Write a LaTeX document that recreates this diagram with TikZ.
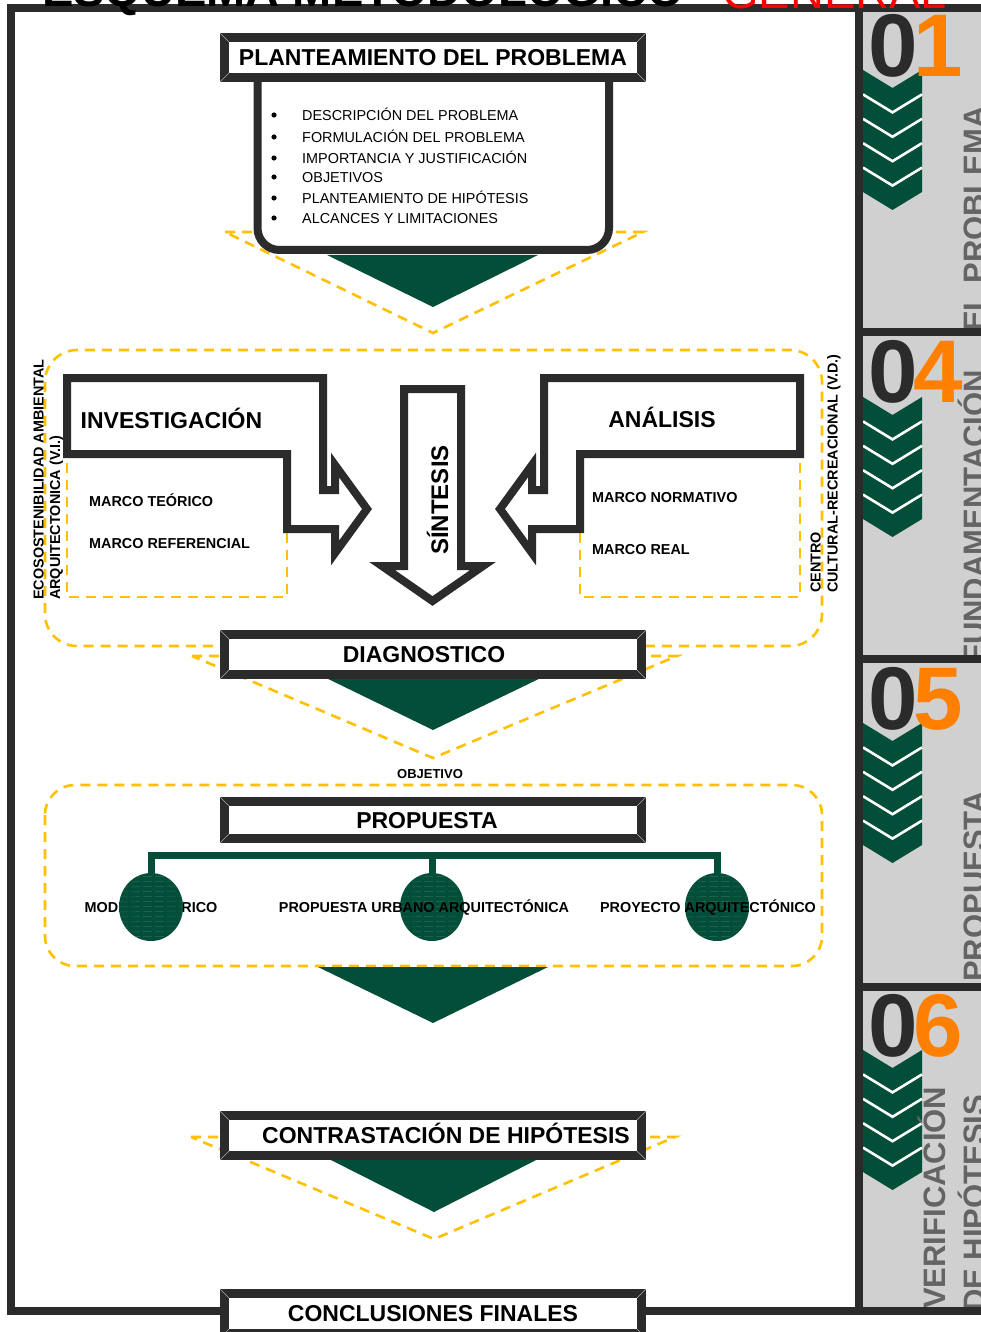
\documentclass[tikz,border=0pt]{standalone}
\usepackage{fontspec}
\setmainfont{Liberation Sans}
\usetikzlibrary{shapes.geometric}

\definecolor{framegray}{HTML}{2B2B2B}
\definecolor{deepgreen}{HTML}{034E39}
\definecolor{amber}{HTML}{FFC000}
\definecolor{panel}{HTML}{D0D0D0}
\definecolor{paneltext}{HTML}{646464}
\definecolor{accent}{HTML}{FF8000}
\definecolor{titlered}{HTML}{FF0000}

\newcommand\fsz[1]{\fontsize{#1}{#1}\selectfont}

% light diagonals at the four corners of a framed title box
\newcommand\framecorners[1]{%
  \foreach \ox/\oy/\ix/\iy/\an in {-4.5/-4.5/4.5/4.5/north west,4.5/-4.5/-4.5/4.5/north east,-4.5/4.5/4.5/-4.5/south west,4.5/4.5/-4.5/-4.5/south east}{%
    \draw[bevel] ([shift={(\ox,\oy)}]#1.\an) -- ([shift={(\ix,\iy)}]#1.\an);}}

% stack of five green chevrons in the side panel, #1 = top edge
\newcommand\chevrons[1]{%
  \fill[deepgreen] (863,#1) -- (892.5,#1+18) -- (922,#1) -- (922,#1+122) -- (892.5,#1+140) -- (863,#1+122) -- cycle;
  \foreach \k in {1,2,3,4}{%
    \draw[white,line width=2.6pt] (863,{#1+24.4*\k}) -- (892.5,{#1+24.4*\k+18}) -- (922,{#1+24.4*\k});}}

\begin{document}
\begin{tikzpicture}[x=1pt,y=-1pt,
  titlebox/.style={rectangle, draw=framegray, line width=9pt, fill=white, outer sep=0pt, inner sep=0pt,
    minimum width=417pt, minimum height=40pt, font=\bfseries\fsz{23}, text height=16.5pt, text depth=0pt},
  bevel/.style={draw=white!60!framegray, line width=0.6pt},
  darkline/.style={draw=framegray, line width=8pt, line join=miter},
  framebar/.style={draw=framegray, line width=8pt},
  guide/.style={draw=amber, line width=2.6pt, dash pattern=on 10pt off 7pt},
  wedge/.style={fill=deepgreen},
  smalltext/.style={inner sep=0pt, font=\bfseries\fsz{14.4}},
  listtext/.style={inner sep=0pt, anchor=base west, font=\fsz{14.4}},
  heading/.style={inner sep=0pt, font=\bfseries\fsz{23}},
  sidelabel/.style={inner sep=0pt, rotate=90, anchor=base west, font=\bfseries\fsz{14.4}},
  paneltitle/.style={inner sep=0pt, rotate=90, anchor=base west, font=\bfseries\fsz{31}, text=paneltext},
  digitdark/.style={inner sep=0pt, anchor=base west, font=\bfseries\fsz{89}, text=framegray},
  digitaccent/.style={inner sep=0pt, anchor=base west, font=\bfseries\fsz{89}, text=accent},
  bracket/.style={draw=deepgreen, line width=7pt, line join=miter},
  bulb/.style={ellipse, fill=deepgreen, minimum width=64pt, minimum height=68pt, inner sep=0pt,
    path picture={\foreach \yy in {-30,-25,...,30}{\draw[white, opacity=0.17, line width=0.5pt, dash pattern=on 9pt off 3pt]
      ([yshift=\yy pt]path picture bounding box.west) -- ([yshift=\yy pt+1pt]path picture bounding box.east);}}}
]
\useasboundingbox (0,0) rectangle (981,1332);
\clip (0,0) rectangle (981,1332);
\fill[white] (0,0) rectangle (981,1332);

% ---------- side panel ----------
\fill[panel] (859,8) rectangle (981,1311);
\chevrons{70}
\chevrons{397}
\chevrons{723}
\chevrons{1050}

\node[digitdark] (d1a) at (868,77) {0};
\node[digitaccent] (d1b) at (913,77) {1};
\node[digitdark] (d4a) at (868,402) {0};
\node[digitaccent] (d4b) at (913,402) {4};
\node[digitdark] (d5a) at (868,729) {0};
\node[digitaccent] (d5b) at (913,729) {5};
\node[digitdark] (d6a) at (868,1056) {0};
\node[digitaccent] (d6b) at (913,1056) {6};

\begin{scope}
  \clip (863,12) rectangle (981,328);
  \node[paneltitle] (p1) at (985,332) {EL PROBLEMA};
\end{scope}
\begin{scope}
  \clip (863,336) rectangle (981,655);
  \node[paneltitle] (p4) at (985,664) {FUNDAMENTACIÓN};
\end{scope}
\begin{scope}
  \clip (863,663) rectangle (981,983);
  \node[paneltitle] (p5) at (985,982) {PROPUESTA};
\end{scope}
\begin{scope}
  \clip (863,991) rectangle (981,1307);
  \node[paneltitle] (p6a) at (945.5,1309) {VERIFICACIÓN};
  \node[paneltitle] (p6b) at (985,1312) {DE HIPÓTESIS};
\end{scope}

% ---------- outer frame ----------
\draw[framebar] (7,8) -- (981,8);
\draw[framebar] (11,4) -- (11,1315);
\draw[framebar] (859,4) -- (859,1315);
\draw[framebar] (7,1311) -- (981,1311);
\foreach \yy in {332,659,987}{\draw[framebar] (859,\yy) -- (981,\yy);}

\node[anchor=base west, inner sep=0pt, font=\bfseries\fsz{47}] (head1) at (42,7) {ESQUEMA METODOLÓGICO};
\node[anchor=base west, inner sep=0pt, font=\fsz{47}, text=titlered] (head2) at (722,9) {GENERAL};

% ---------- planteamiento del problema ----------
\draw[guide] (225,232) -- (643,232) -- (433,333) -- cycle;
\fill[wedge] (327,255) -- (538,255) -- (433,307) -- cycle;
\draw[darkline, fill=white, rounded corners=22pt] (257.5,80) -- (257.5,250) -- (609,250) -- (609,80);
\node[titlebox] (plan) at (433,57.5) {PLANTEAMIENTO DEL PROBLEMA};
\framecorners{plan}
\foreach \yy/\txt [count=\i] in {120.2/DESCRIPCIÓN DEL PROBLEMA,142.2/FORMULACIÓN DEL PROBLEMA,163.2/IMPORTANCIA Y JUSTIFICACIÓN,182.2/OBJETIVOS,203.2/PLANTEAMIENTO DE HIPÓTESIS,223.2/ALCANCES Y LIMITACIONES}{%
  \fill (274,\yy-5.2) circle[radius=2.6pt];
  \node[listtext] (item\i) at (302,\yy) {\txt};
}

% ---------- investigación / síntesis / análisis ----------
\draw[guide, rounded corners=32pt] (45,350) rectangle (822,646);
\draw[guide] (192,656) -- (677,656) -- (433,758) -- cycle;
\draw[guide] (287,533) -- (287,597) -- (67,597) -- (67,458);
\draw[guide] (580,533) -- (580,597) -- (800,597) -- (800,458);

\draw[darkline, fill=white] (67,378) -- (323,378) -- (323,490) -- (335,490) -- (335,465) -- (367,509)
  -- (335,553) -- (335,529) -- (287,529) -- (287,454) -- (67,454) -- cycle;
\draw[darkline, fill=white] (800,378) -- (544,378) -- (544,490) -- (532,490) -- (532,465) -- (500,509)
  -- (532,553) -- (532,529) -- (580,529) -- (580,454) -- (800,454) -- cycle;
\draw[darkline, fill=white] (404,389) -- (461,389) -- (461,566) -- (483,566) -- (432.5,601)
  -- (382,566) -- (404,566) -- cycle;

\node[heading, anchor=base west] (inv) at (80.5,428) {INVESTIGACIÓN};
\node[heading, anchor=base] (ana) at (662,427) {ANÁLISIS};
\node[heading, rotate=90, font=\bfseries\fsz{24}] (sin) at (437.5,500) {SÍNTESIS};
\node[smalltext, anchor=base west] (mt) at (89,506) {MARCO TEÓRICO};
\node[smalltext, anchor=base west] (mr) at (89,548) {MARCO REFERENCIAL};
\node[smalltext, anchor=base west] (mn) at (592,502) {MARCO NORMATIVO};
\node[smalltext, anchor=base west] (mre) at (592,554) {MARCO REAL};

\node[sidelabel] (eco1) at (43.5,600) {ECOSOSTENIBILIDAD AMBIENTAL};
\node[sidelabel] (eco2) at (60,600) {ARQUITECTONICA (V.I.)};
\node[sidelabel] (cen1) at (820.5,593) {CENTRO};
\node[sidelabel] (cen2) at (837.5,593) {CULTURAL-RECREACIONAL (V.D.)};

\fill[wedge] (320,675) -- (547,675) -- (433,730) -- cycle;
\node[titlebox] (diag) at (433,654.5) {DIAGNOSTICO\hspace*{18pt}};
\framecorners{diag}

% ---------- propuesta ----------
\node[smalltext, anchor=base, font=\bfseries\fsz{13}] (obj) at (430,778) {OBJETIVO};
\draw[guide, rounded corners=30pt] (45,785) rectangle (822,966);
\fill[wedge] (318,967) -- (548,967) -- (433,1023) -- cycle;
\node[titlebox, minimum height=37pt] (prop) at (433,820) {PROPUESTA\hspace*{12pt}};
\framecorners{prop}

\node[smalltext, anchor=base] (t1) at (151,912) {MODELO TEÓRICO};
\node[bulb] (e1) at (151,907) {};
\node[bulb] (e2) at (432,907) {};
\node[bulb] (e3) at (717,907) {};
\draw[bracket] (e1.north) -- ++(0,-17) -| (e3.north);
\draw[bracket] (e2.north) -- ++(0,-17);
\node[smalltext, anchor=base] (t2) at (424,912) {PROPUESTA URBANO ARQUITECTÓNICA};
\node[smalltext, anchor=base] (t3) at (708,912) {PROYECTO ARQUITECTÓNICO};

% ---------- contrastación y conclusiones ----------
\draw[guide] (191,1137) -- (675,1137) -- (434,1239) -- cycle;
\fill[wedge] (321,1155) -- (546,1155) -- (434,1212) -- cycle;
\node[titlebox] (cont) at (433,1135.5) {\hspace*{26pt}CONTRASTACIÓN DE HIPÓTESIS};
\framecorners{cont}
\node[titlebox] (conc) at (433,1313.5) {CONCLUSIONES FINALES};
\framecorners{conc}
\end{tikzpicture}
\end{document}
